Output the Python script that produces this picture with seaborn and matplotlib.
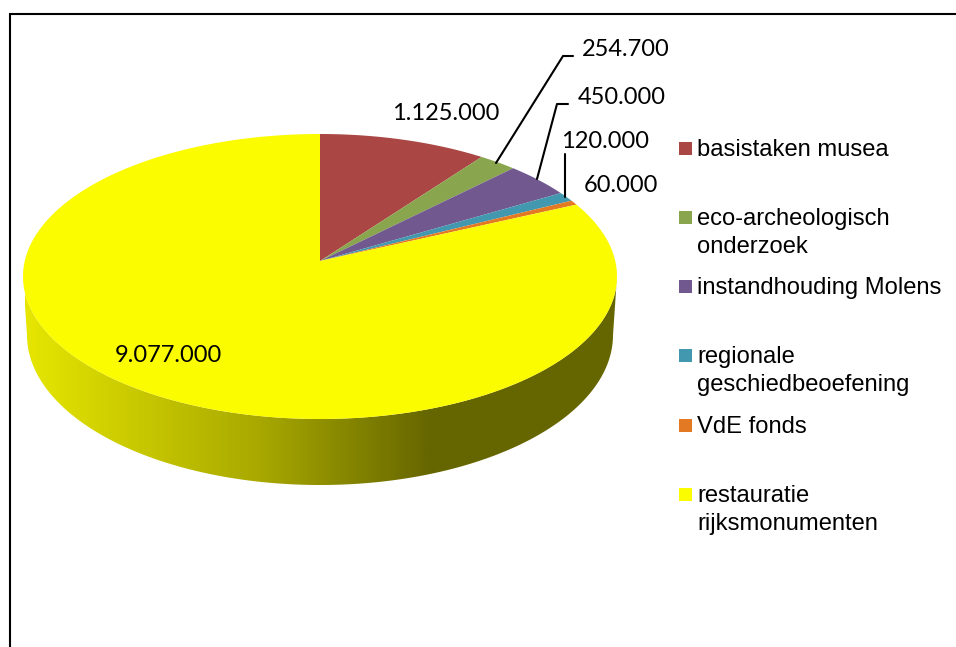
import numpy as np
import matplotlib
matplotlib.use("Agg")
import matplotlib.pyplot as plt
import seaborn as sns
from matplotlib.colors import LinearSegmentedColormap
from matplotlib.path import Path
from matplotlib.patches import Rectangle, PathPatch
from matplotlib.transforms import Affine2D

# --- data ---
categories = ["basistaken musea", "eco-archeologisch\nonderzoek", "instandhouding Molens",
              "regionale\ngeschiedbeoefening", "VdE fonds", "restauratie\nrijksmonumenten"]
values = [1125000, 254700, 450000, 120000, 60000, 9077000]
value_labels = ["1.125.000", "254.700", "450.000", "120.000", "60.000", "9.077.000"]
slice_colors = ["#AA4643", "#89A54E", "#71588F", "#4198AF", "#E37A23", "#FCFC00"]

# --- layout, in pixels of the 956x647 picture ---
CX, CY, RX, RY = 320, 276.5, 297, 142.5
APEX_Y = 261
LOW_CY, LOW_RX, LOW_RY = 335, 293, 150

sns.set_theme(style="white")
plt.rcParams["font.family"] = ["Liberation Sans", "DejaVu Sans"]
palette = sns.color_palette(slice_colors)

fig = plt.figure(figsize=(9.56, 6.47), dpi=100)

# perspective of the tilted disc: unit circle -> ellipse, centre moves up to the apex
SHIFT = (CY - APEX_Y) / RY
K = SHIFT


def tilt(verts):
    w = 1 + K * verts[:, 1]
    x = verts[:, 0] * np.sqrt(1 - K ** 2) / w
    y = (verts[:, 1] + SHIFT) / w
    return np.column_stack([x, y])


# pie axes: one unit = the ellipse radius, so the pie comes out flattened
ax = fig.add_axes([0, 0, 1, 1])
wedges, _ = ax.pie(values, colors=palette, startangle=90, counterclock=False,
                   wedgeprops={"linewidth": 0})
ax.set_aspect("auto")

up = Affine2D().scale(2000)
for w in wedges:
    # flatten the arc first so it stays on the ellipse after the tilt
    poly = w.get_path().to_polygons(transform=up, closed_only=True)[0] / 2000
    w._path = Path(tilt(poly), closed=True)

# side of the disc, shaded left to right
t = np.linspace(np.pi, 2 * np.pi, 240)
side_top = np.column_stack([np.cos(t), np.sin(t)])
side_low = np.column_stack([np.cos(t) * LOW_RX / RX,
                            np.sin(t) * LOW_RY / RY - (LOW_CY - CY) / RY])
side_path = Path(np.vstack([side_top, side_low[::-1], side_top[:1]]), closed=True)
side_cmap = LinearSegmentedColormap.from_list(
    "side", [(0, "#E6E600"), (235 / 594, "#A8A800"), (405 / 594, "#666600"), (1, "#666600")])
img = ax.imshow(np.linspace(0, 1, 600)[None, :], cmap=side_cmap, aspect="auto",
                extent=[(25 - CX) / RX, (619 - CX) / RX, -1.6, 0.1], zorder=0.5,
                interpolation="bilinear")
img.set_clip_path(PathPatch(side_path, transform=ax.transData))

ax.set_xlim(-CX / RX, (956 - CX) / RX)
ax.set_ylim((CY - 647) / RY, CY / RY)

# overlay in picture pixels for frame, labels and legend
ov = fig.add_axes([0, 0, 1, 1])
ov.set_xlim(0, 956)
ov.set_ylim(647, 0)
ov.axis("off")
ov.patch.set_alpha(0)

ov.plot([10, 10, 956], [647, 14, 14], color="black", lw=1.5, solid_joinstyle="miter")

# value labels
label_pos = [(446, 114), (626, 50), (622, 97), (605, 142), (621, 186), (168.5, 355)]
for txt, (x, y) in zip(value_labels, label_pos):
    ov.text(x, y, txt, family="Lato", fontsize=17, color="black",
            ha="center", va="center")

# leader lines
ov.plot([573, 563, 496], [56, 56, 163], color="black", lw=1.5)
ov.plot([568, 557, 537], [104, 104, 179], color="black", lw=1.5)
ov.plot([565, 565], [154, 197], color="black", lw=1.5)

# legend, spaced by hand as in the original
legend_y = [148, 217, 286, 355, 425, 494]
for cat, col, y in zip(categories, palette, legend_y):
    ov.add_patch(Rectangle((679, y - 6.5), 13, 13, facecolor=col, edgecolor="none"))
    ov.text(697, y - 9, cat, fontsize=17.15, color="black", ha="left", va="top",
            linespacing=1.36)

fig.savefig("out.png", dpi=100)
